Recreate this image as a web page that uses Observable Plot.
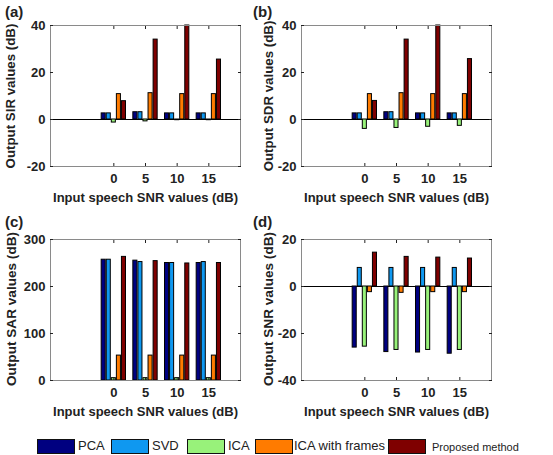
<!DOCTYPE html>
<html><head><meta charset="utf-8">
<script src="https://cdn.jsdelivr.net/npm/d3@7"></script>
<script src="https://cdn.jsdelivr.net/npm/@observablehq/plot@0.6"></script>
<style>
body{margin:0;background:#fff;}
#root{position:relative;width:553px;height:455px;font-family:Arial,"Liberation Sans",sans-serif;color:#222;overflow:hidden;}
.panel{position:absolute;}
.plabel{position:absolute;font-weight:bold;font-size:15px;line-height:15px;}
.sw{position:absolute;width:36px;height:13px;border:1px solid #111;top:439px;}
.lt{position:absolute;font-size:13px;line-height:14px;top:439px;}
</style>
</head><body>
<div id="root"></div>
<script>
const snr = [0, 5, 10, 15];
const methods = ["PCA", "SVD", "ICA", "ICA with frames", "Proposed method"];
const colors = ["#000080", "#0f98f0", "#98f27a", "#ff7b00", "#7f0000"];

// rows: PCA, SVD, ICA, ICA with frames, Proposed method
const sir = [
  [2.6, 3.1, 2.6, 2.6],
  [2.6, 3.1, 2.6, 2.6],
  [-1.3, -0.8, -0.3, -0.3],
  [10.8, 11.2, 10.8, 10.8],
  [7.8, 34, 40, 25.5]
];
const sdr = [
  [2.6, 3.1, 2.6, 2.6],
  [2.6, 3.1, 2.6, 2.6],
  [-4, -3.6, -3.1, -2.7],
  [10.8, 11.2, 10.8, 10.8],
  [7.9, 34, 40, 25.7]
];
const sar = [
  [257, 255, 250, 250],
  [257, 252, 250, 252],
  [5, 5, 5, 5],
  [53, 53, 53, 53],
  [263, 254, 249, 250]
];
const snrOut = [
  [-26, -27.9, -28.1, -28.6],
  [7.9, 7.9, 7.9, 7.9],
  [-25.6, -27, -27, -27],
  [-2.4, -2.7, -2.4, -2.4],
  [14.4, 12.6, 12.3, 11.9]
];
const ticksAB = [-20, 0, 20, 40];
const ticksC = [0, 100, 200, 300];
const ticksD = [-40, -20, 0, 20];
const xTitle = "Input speech SNR values (dB)";

const root = document.getElementById("root");

function panel({values, yDomain, yTicks, yLabel, left, top, yTitleDx, yTitleDy, yTitleSize, tag}) {
  const rows = [];
  methods.forEach((m, i) => snr.forEach((s, j) => rows.push({method: m, i, snr: s, value: values[i][j]})));
  const fmt = d => String(d);
  const chart = Plot.plot({
    width: 260, height: 215,
    marginLeft: 50, marginRight: 20, marginTop: 25, marginBottom: 49,
    style: {fontFamily: "Arial, 'Liberation Sans', sans-serif", fontSize: "13px", fontWeight: "bold", color: "#222", background: "transparent", overflow: "visible"},
    x: {domain: [-10, 20]},
    y: {domain: yDomain},
    color: {domain: methods, range: colors},
    marks: [
      Plot.ruleY([0], {stroke: "black", strokeWidth: 1}),
      Plot.rect(rows, {
        x1: d => d.snr + (d.i - 2) * 0.8 - 0.32,
        x2: d => d.snr + (d.i - 2) * 0.8 + 0.32,
        y1: 0, y2: "value", fill: "method", stroke: "black", strokeWidth: 1
      }),
      Plot.frame({stroke: "#8a8a8a"}),
      Plot.axisX(snr, {tickSize: -3, tickPadding: 10, tickFormat: fmt, label: null}),
      Plot.axisX(snr, {anchor: "top", tickSize: -3, tickFormat: () => "", label: null}),
      Plot.axisY(yTicks, {tickSize: -3, tickPadding: 8, tickFormat: fmt, label: null}),
      Plot.axisY(yTicks, {anchor: "right", tickSize: -3, tickFormat: () => "", label: null}),
      Plot.text([xTitle], {text: d => d, frameAnchor: "bottom", dy: 35, fontSize: 13, fontWeight: "bold", fill: "#222"}),
      Plot.text([yLabel], {text: d => d, frameAnchor: "left", dx: yTitleDx, dy: yTitleDy, rotate: -90, textAnchor: "middle", lineAnchor: "middle", fontSize: yTitleSize, fontWeight: "bold", fill: "#222"})
    ]
  });
  chart.classList.add("panel");
  chart.style.left = left + "px";
  chart.style.top = top + "px";
  root.appendChild(chart);
  const lab = document.createElement("div");
  lab.className = "plabel";
  lab.textContent = tag;
  lab.style.left = (left === 0 ? 5 : left + 2) + "px";
  lab.style.top = (top + (top === 0 ? 4 : 0)) + "px";
  root.appendChild(lab);
}

panel({values: sir, yDomain: [-20, 40], yTicks: ticksAB, yLabel: "Output SIR values (dB)", left: 0, top: 0, yTitleDx: -40, yTitleDy: 0, yTitleSize: 13.3, tag: "(a)"});
panel({values: sdr, yDomain: [-20, 40], yTicks: ticksAB, yLabel: "Output SDR values (dB)", left: 251, top: 0, yTitleDx: -33, yTitleDy: 0, yTitleSize: 13.3, tag: "(b)"});
panel({values: sar, yDomain: [0, 300], yTicks: ticksC, yLabel: "Output SAR values (dB)", left: 0, top: 214, yTitleDx: -39, yTitleDy: -1, yTitleSize: 13.6, tag: "(c)"});
panel({values: snrOut, yDomain: [-40, 20], yTicks: ticksD, yLabel: "Output SNR values (dB)", left: 251, top: 214, yTitleDx: -33, yTitleDy: -1, yTitleSize: 13.6, tag: "(d)"});

// legend
const swLeft = [37, 111, 187, 255, 388];
const txLeft = [78, 152, 228, 294, 432];
methods.forEach((m, i) => {
  const s = document.createElement("div");
  s.className = "sw";
  s.style.left = swLeft[i] + "px";
  s.style.background = colors[i];
  root.appendChild(s);
  const t = document.createElement("div");
  t.className = "lt";
  t.textContent = m;
  t.style.left = txLeft[i] + "px";
  if (i === 4) { t.style.fontSize = "11px"; t.style.top = "440px"; }
  root.appendChild(t);
});
</script>
</body></html>
